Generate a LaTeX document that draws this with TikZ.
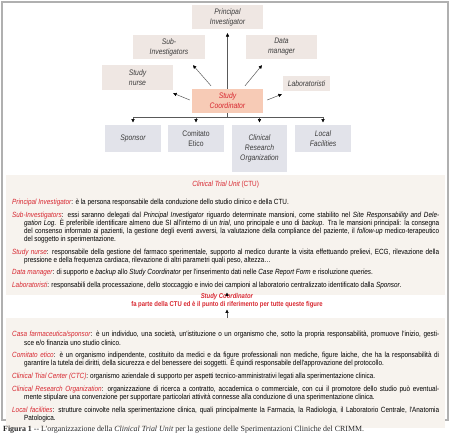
\documentclass[tikz,border=0pt]{standalone}
\usepackage{fontspec}
\newfontfamily\narrowsf{Liberation Sans}[FakeStretch=0.85]
\newfontfamily\capfont{Liberation Serif}
\usetikzlibrary{arrows.meta,positioning}

\definecolor{ctured}{HTML}{D7262F}
\definecolor{boxgray}{HTML}{EFE7E3}
\definecolor{boxblue}{HTML}{E2E3EA}
\definecolor{scfill}{HTML}{F7CBB6}
\definecolor{panelfill}{HTML}{F7F3EE}
\definecolor{framegray}{HTML}{B0B0B0}
\definecolor{txtgray}{HTML}{3C3C3C}

\newcommand\rossa[1]{{\color{ctured}\itshape #1}}
\newcommand\voce[2]{\par\hangindent=12pt\hangafter=1\noindent\rossa{#1}: #2}
\newcommand\impostapar{\setlength{\parskip}{4.6pt}\tolerance=9999\hyphenpenalty=10000\emergencystretch=20pt}

\begin{document}
\begin{tikzpicture}[x=1pt, y=-1pt,
    rolebox/.style={fill=boxgray, minimum width=71pt, minimum height=24pt, inner sep=1pt,
      align=center, text=txtgray, font=\narrowsf\itshape\fontsize{8}{10}\selectfont},
    extbox/.style={rolebox, fill=boxblue, minimum width=56pt, minimum height=27pt, anchor=north},
    line/.style={draw=black!65, line width=0.5pt},
    conn/.style={line, -{Triangle[length=3.4pt, width=3.2pt, color=black]}},
    panel/.style={fill=panelfill, text width=427pt, inner xsep=6pt, inner ysep=6pt,
      align=justify, text=black, font=\narrowsf\fontsize{7.5}{8.1}\selectfont}]
  \useasboundingbox (0,0) rectangle (450,441);
  % cornice esterna
  \draw[framegray, line width=1.2pt] (2,2) rectangle (448,420);

  % organigramma
  \node[rolebox] (pi) at (227.5,17) {Principal\\Investigator};
  \node[rolebox, minimum width=72pt] (si) at (169,47) {Sub-\\Investigators};
  \node[rolebox] (dm) at (281.5,47) {Data\\manager};
  \node[rolebox, minimum height=25pt] (sn) at (137.5,77.5) {Study\\nurse};
  \node[rolebox, minimum width=47pt, minimum height=15pt] (lab) at (306.5,83.5) {Laboratoristi};
  \node[rolebox, fill=scfill, text=ctured] (sc) at (227.5,101) {Study\\Coordinator};

  % frecce verso le figure della CTU
  \draw[conn, shorten >=4pt] (sc.north) -- (pi.south);
  \draw[conn] ([xshift=-16.5pt,yshift=3pt]sc.north) -- ([xshift=24pt,yshift=-6pt]si.south);
  \draw[conn] ([xshift=17.5pt,yshift=3pt]sc.north) -- ([xshift=-19.5pt,yshift=-6pt]dm.south);
  \draw[conn] ([xshift=-2pt,yshift=1pt]sc.west) -- ([yshift=-3pt]sn.south east);
  \draw[conn] ([xshift=4pt,yshift=1pt]sc.east) -- ([xshift=-1pt,yshift=-3pt]lab.south west);

  % figure esterne
  \node[extbox] (sp) at (133,125) {Sponsor};
  \node[extbox, font=\narrowsf\fontsize{8}{10}\selectfont] (ce) at (196,125) {Comitato\\Etico};
  \node[extbox, minimum width=55pt, minimum height=47pt] (cro) at (259.5,125) {Clinical\\Research\\Organization};
  \node[extbox] (lf) at (323,125) {Local\\Facilities};

  \coordinate (bus) at ([yshift=-4pt]sc.south);
  \draw[line] (sc.south) -- (bus);
  \draw[line] (sp.north |- bus) -- (lf.north |- bus);
  \foreach \n in {sp,ce,cro,lf} {
    \draw[conn, shorten >=2.5pt] (\n.north |- bus) -- (\n.north);
  }

  % riquadro CTU
  \node[panel, anchor=north west] (ctu) at (6,175) {\impostapar
    {\centering\rossa{Clinical Trial Unit} {\color{ctured}(CTU)}\par}\vspace{5pt}
    \voce{Principal Investigator}{è la persona responsabile della conduzione dello studio clinico e della CTU.}
    \voce{Sub-Investigators}{essi saranno delegati dal \textit{Principal Investigator} riguardo determinate mansioni, come stabilito nel \textit{Site Responsability and Dele-}\linebreak\textit{gation Log}. È preferibile identificare almeno due SI all'interno di un \textit{trial}, uno principale e uno di \textit{backup}. Tra le mansioni principali: la consegna\linebreak del consenso informato ai pazienti, la gestione degli eventi avversi, la valutazione della compliance del paziente, il \textit{follow-up} medico-terapeutico\linebreak del soggetto in sperimentazione.}
    \voce{Study nurse}{responsabile della gestione del farmaco sperimentale, supporto al medico durante la visita effettuando prelievi, ECG, rilevazione della\linebreak pressione e della frequenza cardiaca, rilevazione di altri parametri quali peso, altezza…}
    \voce{Data manager}{di supporto e \textit{backup} allo \textit{Study Coordinator} per l'inserimento dati nelle \textit{Case Report Form} e risoluzione \textit{queries}.}
    \voce{Laboratoristi}{responsabili della processazione, dello stoccaggio e invio dei campioni al laboratorio centralizzato identificato dalla \textit{Sponsor}.}\par};

  % nota centrale
  \node[align=center, text=ctured, inner sep=1pt, font=\narrowsf\bfseries\fontsize{7}{8}\selectfont] (scnote) at (227,301)
    {\textit{Study Coordinator}\\fa parte della CTU ed è il punto di riferimento per tutte queste figure};

  % riquadro figure esterne
  \node[panel, anchor=north west] (ext) at (6,318) {\impostapar
    \voce{Casa farmaceutica/sponsor}{è un individuo, una società, un'istituzione o un organismo che, sotto la propria responsabilità, promuove l'inizio, gesti-\linebreak sce e/o finanzia uno studio clinico.}
    \voce{Comitato etico}{è un organismo indipendente, costituito da medici e da figure professionali non mediche, figure laiche, che ha la responsabilità di\linebreak garantire la tutela dei diritti, della sicurezza e del benessere dei soggetti. È quindi responsabile dell'approvazione del protocollo.}
    \voce{Clinical Trial Center (CTC)}{organismo aziendale di supporto per aspetti tecnico-amministrativi legati alla sperimentazione clinica.}
    \voce{Clinical Research Organization}{organizzazione di ricerca a contratto, accademica o commerciale, con cui il promotore dello studio può eventual-\linebreak mente stipulare una convenzione per supportare particolari attività connesse alla conduzione di una sperimentazione clinica.}
    \voce{Local facilities}{strutture coinvolte nella sperimentazione clinica, quali principalmente la Farmacia, la Radiologia, il Laboratorio Centrale, l'Anatomia\linebreak Patologica.}\par};

  \draw[conn] (ctu.south -| scnote.north) -- (scnote.north);
  \draw[conn] (ext.north -| scnote.south) -- (scnote.south);

  % didascalia
  \node[anchor=west, inner sep=0pt, text=black!85, font=\capfont\fontsize{7.9}{9}\selectfont] (caption) at (3,430)
    {\textbf{Figura 1} -- L'organizzazione della \textit{Clinical Trial Unit} per la gestione delle Sperimentazioni Cliniche del CRIMM.};
\end{tikzpicture}
\end{document}
